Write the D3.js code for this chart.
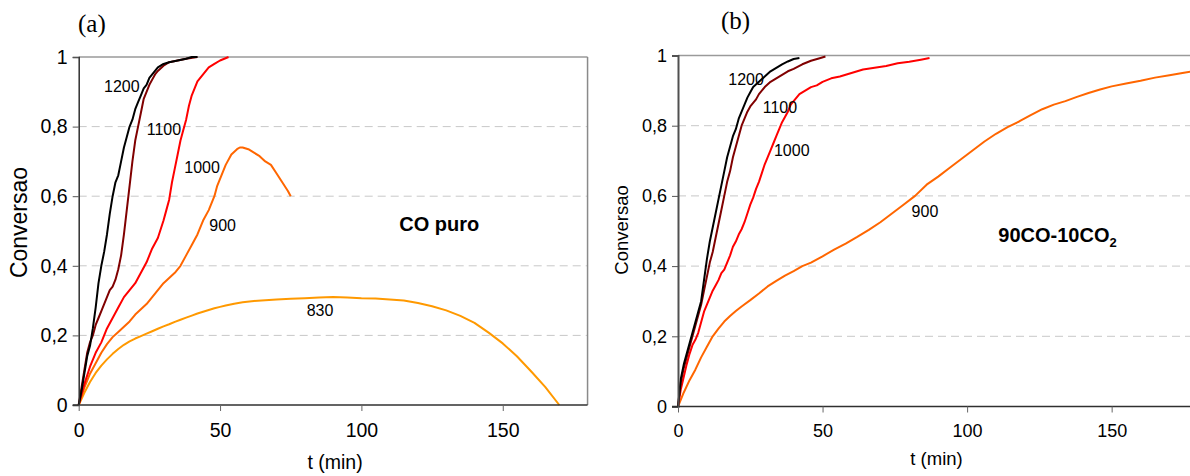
<!DOCTYPE html>
<html>
<head>
<meta charset="utf-8">
<script src="https://cdn.jsdelivr.net/npm/d3@7"></script>
<style>
  html, body { margin: 0; padding: 0; background: #fff; }
  svg { display: block; }
</style>
</head>
<body>
<svg id="chart" width="1190" height="476"></svg>
<script>
// ---------------- DATA ----------------
const xTicks = [0, 50, 100, 150];
const yTicks = [0, 0.2, 0.4, 0.6, 0.8, 1];

// Panel (a): CO puro  — [t (min), conversao]
const a1200 = [[0,0],[1,0.04],[2,0.09],[3,0.14],[4,0.17],[5,0.22],[6,0.28],[7,0.35],[8,0.40],[9,0.44],[10,0.49],[11,0.55],[12,0.60],[13,0.64],[14,0.66],[15,0.70],[16,0.74],[17,0.77],[18,0.80],[19,0.82],[20,0.85],[21,0.87],[22,0.89],[23,0.91],[24,0.92],[25,0.94],[26,0.95],[27,0.96],[28,0.97],[30,0.98],[32,0.985],[35,0.99],[38,0.995],[40,1.0],[42,1.0]];
const a1100 = [[0,0],[1,0.05],[2,0.10],[3,0.15],[4,0.18],[5,0.20],[6,0.23],[7,0.25],[8,0.27],[9,0.29],[10,0.31],[11,0.33],[12,0.34],[13,0.36],[14,0.39],[15,0.43],[16,0.49],[17,0.56],[18,0.63],[19,0.70],[20,0.76],[21,0.80],[22,0.84],[23,0.88],[24,0.90],[25,0.92],[26,0.935],[27,0.95],[28,0.96],[30,0.975],[32,0.985],[35,0.99],[38,0.995],[42,1.0]];
const a1000 = [[0,0],[2,0.06],[4,0.11],[6,0.15],[8,0.18],[10,0.22],[12,0.25],[14,0.28],[16,0.31],[18,0.33],[20,0.35],[22,0.38],[24,0.41],[26,0.45],[28,0.48],[30,0.53],[31,0.56],[32,0.59],[33,0.64],[34,0.68],[35,0.72],[36,0.76],[37,0.79],[38,0.82],[39,0.86],[40,0.89],[41,0.91],[42,0.93],[44,0.95],[46,0.97],[48,0.98],[50,0.99],[53,1.0]];
const a900 = [[0,0],[2,0.05],[4,0.09],[6,0.12],[8,0.15],[10,0.175],[12,0.195],[14,0.21],[16,0.225],[18,0.24],[20,0.26],[22,0.275],[24,0.29],[26,0.31],[28,0.33],[30,0.35],[32,0.365],[34,0.38],[36,0.40],[38,0.43],[40,0.46],[42,0.49],[44,0.53],[46,0.56],[48,0.60],[49,0.63],[50,0.65],[52,0.69],[54,0.72],[56,0.735],[57,0.74],[58,0.74],[60,0.735],[62,0.725],[64,0.715],[66,0.70],[68,0.69],[70,0.665],[72,0.64],[74,0.615],[75,0.60]];
const a830 = [[0,0],[2,0.035],[4,0.066],[6,0.092],[8,0.113],[10,0.131],[12,0.147],[14,0.161],[16,0.173],[18,0.183],[20,0.191],[22,0.198],[24,0.205],[26,0.212],[28,0.219],[30,0.226],[32,0.232],[34,0.239],[36,0.245],[38,0.251],[40,0.257],[42,0.263],[44,0.268],[46,0.273],[48,0.278],[50,0.282],[52,0.286],[55,0.291],[58,0.295],[62,0.299],[66,0.301],[70,0.303],[75,0.305],[80,0.307],[85,0.309],[90,0.31],[95,0.309],[100,0.307],[105,0.306],[110,0.303],[115,0.30],[120,0.293],[125,0.284],[130,0.272],[135,0.256],[140,0.236],[145,0.208],[150,0.177],[155,0.14],[160,0.097],[165,0.052],[170,0.0]];

// Panel (b): 90CO-10CO2
const b1200 = [[0,0],[1,0.08],[2,0.12],[3,0.15],[4,0.18],[5,0.21],[6,0.24],[7,0.27],[8,0.30],[9,0.36],[10,0.42],[11,0.47],[12,0.51],[13,0.55],[14,0.59],[15,0.63],[16,0.67],[17,0.71],[18,0.74],[19,0.77],[20,0.79],[21,0.82],[22,0.84],[23,0.86],[24,0.88],[25,0.895],[26,0.91],[28,0.925],[30,0.94],[32,0.955],[34,0.965],[36,0.975],[38,0.983],[40,0.99],[42,0.993]];
const b1100 = [[0,0],[1,0.07],[2,0.11],[3,0.14],[4,0.17],[5,0.20],[6,0.23],[7,0.26],[8,0.29],[9,0.33],[10,0.37],[11,0.41],[12,0.44],[13,0.48],[14,0.52],[15,0.56],[16,0.60],[17,0.64],[18,0.67],[19,0.71],[20,0.74],[21,0.77],[22,0.80],[23,0.82],[24,0.84],[25,0.855],[26,0.865],[27,0.875],[28,0.89],[30,0.91],[32,0.925],[34,0.935],[36,0.945],[38,0.955],[40,0.962],[43,0.975],[46,0.985],[49,0.992],[51,0.997]];
const b1000 = [[0,0],[1,0.05],[2,0.085],[3,0.12],[4,0.15],[5,0.175],[6,0.19],[7,0.21],[8,0.24],[9,0.27],[10,0.29],[11,0.31],[12,0.33],[13,0.345],[14,0.36],[15,0.38],[16,0.39],[17,0.41],[18,0.43],[19,0.455],[20,0.47],[21,0.49],[22,0.505],[23,0.525],[24,0.55],[25,0.575],[26,0.595],[27,0.62],[28,0.64],[29,0.665],[30,0.69],[31,0.71],[32,0.73],[33,0.75],[34,0.77],[35,0.79],[36,0.81],[37,0.825],[38,0.84],[39,0.86],[40,0.87],[42,0.89],[44,0.90],[46,0.91],[48,0.915],[50,0.925],[53,0.935],[56,0.94],[60,0.95],[64,0.96],[68,0.965],[72,0.97],[76,0.978],[80,0.982],[84,0.988],[87,0.993]];
const b900 = [[0,0],[2,0.04],[4,0.075],[6,0.105],[8,0.14],[10,0.17],[12,0.20],[14,0.222],[16,0.242],[18,0.258],[20,0.272],[22,0.285],[25,0.303],[28,0.322],[31,0.342],[34,0.358],[37,0.373],[40,0.386],[43,0.40],[46,0.41],[50,0.428],[54,0.447],[58,0.464],[62,0.483],[66,0.503],[70,0.525],[74,0.55],[78,0.575],[82,0.60],[86,0.632],[90,0.655],[94,0.68],[98,0.705],[102,0.73],[106,0.755],[110,0.777],[114,0.796],[118,0.812],[122,0.83],[126,0.847],[130,0.86],[134,0.87],[138,0.882],[142,0.893],[146,0.903],[150,0.912],[155,0.92],[160,0.928],[165,0.937],[170,0.944],[175,0.951],[180,0.957]];

const seriesNames = ["1200", "1100", "1000", "900", "830"];
const seriesColors = ["#000000", "#800000", "#ff0000", "#ff6600", "#ff9900"];

// annotation labels: [text, t, conversao]
const labelsA = [["1200", 8.95, 0.900], ["1100", 24.05, 0.776], ["1000", 37.35, 0.6675], ["900", 46.2, 0.50], ["830", 80.65, 0.2557]];
const labelsB = [["1200", 17.4, 0.916], ["1100", 29.3, 0.837], ["1000", 33.2, 0.7137], ["900", 80.8, 0.539]];

// ---------------- DRAW ----------------
const SANS = "'Liberation Sans', Arial, sans-serif";
const SERIF = "'Liberation Serif', 'Times New Roman', serif";
const svg = d3.select("#chart");
const fmt = d => d === 0 ? "0" : d === 1 ? "1" : d3.format(".1f")(d).replace(".", ",");
const colorOf = d3.scaleOrdinal(seriesNames, seriesColors);

function panel(cfg) {
  const x = d3.scaleLinear().domain([0, 180]).range([cfg.x0, cfg.x0 + cfg.pxPerUnit * 180]);
  const y = d3.scaleLinear().domain([0, 1]).range([cfg.y0, cfg.y1]);
  const g = svg.append("g").style("font-family", SANS);
  const xr = Math.min(x(180), 1190);

  // gridlines
  g.append("g").selectAll("line").data(yTicks.filter(d => d > 0 && d < 1)).join("line")
    .attr("x1", x(0)).attr("x2", xr)
    .attr("y1", d => y(d)).attr("y2", d => y(d))
    .attr("stroke", "#c8c8c8").attr("stroke-width", 1).attr("stroke-dasharray", "8,5");

  // plot border (top / right)
  g.append("line").attr("x1", x(0)).attr("x2", xr).attr("y1", y(1)).attr("y2", y(1))
    .attr("stroke", "#9a9a9a").attr("stroke-width", 1.5);
  if (cfg.rightBorder) {
    g.append("line").attr("x1", x(180)).attr("x2", x(180)).attr("y1", y(1)).attr("y2", y(0))
      .attr("stroke", "#8a8a8a").attr("stroke-width", 1.5);
  }

  // series
  const line = d3.line().x(d => x(d[0])).y(d => y(d[1]));
  g.append("g").selectAll("path").data(cfg.series.slice().reverse()).join("path")
    .attr("d", d => line(d.values))
    .attr("fill", "none")
    .attr("stroke", d => colorOf(d.name))
    .attr("stroke-width", 2)
    .attr("stroke-linejoin", "round");

  // axes
  const yAxis = d3.axisLeft(y).tickValues(yTicks).tickFormat(fmt).tickSize(6).tickPadding(5);
  const ya = g.append("g").attr("transform", `translate(${x(0)},0)`).call(yAxis);
  ya.select(".domain").attr("stroke", cfg.axisColor).attr("stroke-width", cfg.yAxisWidth);
  ya.selectAll(".tick line").attr("stroke", "#555");
  ya.selectAll(".tick text").style("font-size", cfg.tickFont + "px").style("font-family", SANS).attr("fill", "#000");

  const xAxis = d3.axisBottom(x).tickValues(xTicks).tickFormat(d3.format("d")).tickSize(6).tickPadding(12);
  const xa = g.append("g").attr("transform", `translate(0,${y(0)})`).call(xAxis);
  xa.select(".domain").attr("stroke", "#303030").attr("stroke-width", 1.5)
    .attr("d", `M${x(0) - 6},0H${xr}`);
  xa.selectAll(".tick line").attr("stroke", "#666");
  xa.selectAll(".tick text").style("font-size", cfg.tickFont + "px").style("font-family", SANS).attr("fill", "#000");

  // axis titles
  g.append("text").attr("x", cfg.xTitleX).attr("y", cfg.xTitleY).attr("text-anchor", "middle")
    .style("font-size", cfg.xTitleFont + "px").text("t (min)");
  g.append("text").attr("transform", `translate(${cfg.yTitleX},${cfg.yTitleY}) rotate(-90)`)
    .attr("text-anchor", "middle").style("font-size", cfg.yTitleFont + "px").text("Conversao");

  // curve labels
  g.append("g").selectAll("text").data(cfg.labels).join("text")
    .attr("x", d => x(d[1])).attr("y", d => y(d[2]))
    .style("font-size", "16px").text(d => d[0]);

  // panel letter
  g.append("text").attr("x", cfg.letterX).attr("y", cfg.letterY)
    .style("font-family", SERIF).style("font-size", "25px")
    .text(cfg.letter);

  // condition label
  const t = g.append("text").attr("x", x(cfg.cond[1])).attr("y", y(cfg.cond[2]))
    .style("font-weight", "bold").style("font-size", "20px");
  t.append("tspan").text(cfg.cond[0]);
  if (cfg.condSub) {
    t.append("tspan").style("font-size", "13px").attr("dy", 5).text(cfg.condSub);
  }
}

panel({
  x0: 78.7, pxPerUnit: 2.827, y0: 405, y1: 57,
  rightBorder: true, axisColor: "#303030", yAxisWidth: 1.5,
  tickFont: 19.5, xTitleX: 335, xTitleY: 469, xTitleFont: 19.5,
  yTitleX: 27, yTitleY: 222.5, yTitleFont: 23,
  letter: "(a)", letterX: 78, letterY: 32,
  series: [
    { name: "1200", values: a1200 }, { name: "1100", values: a1100 },
    { name: "1000", values: a1000 }, { name: "900", values: a900 }, { name: "830", values: a830 }
  ],
  labels: labelsA,
  cond: ["CO puro", 113.4, 0.501]
});

panel({
  x0: 678, pxPerUnit: 2.891, y0: 406.5, y1: 55.5,
  rightBorder: false, axisColor: "#505050", yAxisWidth: 2,
  tickFont: 18, xTitleX: 936.5, xTitleY: 465, xTitleFont: 18.5,
  yTitleX: 628, yTitleY: 230, yTitleFont: 18.5,
  letter: "(b)", letterX: 721, letterY: 29,
  series: [
    { name: "1200", values: b1200 }, { name: "1100", values: b1100 },
    { name: "1000", values: b1000 }, { name: "900", values: b900 }
  ],
  labels: labelsB,
  cond: ["90CO-10CO", 110.8, 0.469], condSub: "2"
});
</script>
</body>
</html>
